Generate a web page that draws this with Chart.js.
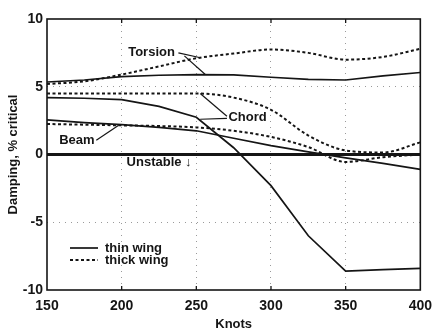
<!DOCTYPE html>
<html>
<head>
<meta charset="utf-8">
<script src="https://cdn.jsdelivr.net/npm/chart.js@4.4.1/dist/chart.umd.min.js"></script>
<style>
    html, body { margin: 0; padding: 0; background: #fff; }
    #wrap { width: 440px; height: 333px; }
</style>
</head>
<body>
<div id="wrap"><canvas id="myChartDamping"></canvas></div>
<script>
// valores (Knots x Damping % critical)
const knots = [150, 175, 200, 225, 250, 275, 300, 325, 350, 375, 400];

const torsionThin  = [5.35, 5.5, 5.75, 5.85, 5.9, 5.88, 5.7, 5.55, 5.5, 5.8, 6.05];
const torsionThick = [5.2, 5.4, 5.9, 6.5, 7.1, 7.45, 7.75, 7.5, 7.0, 7.2, 7.8];
const chordThin    = [4.2, 4.15, 4.05, 3.55, 2.75, 0.5, -2.3, -6.0, -8.6, -8.5, -8.4];
const chordThick   = [4.5, 4.5, 4.5, 4.5, 4.5, 4.2, 3.3, 1.4, 0.3, 0.15, 0.9];
const beamThin     = [2.55, 2.35, 2.2, 2.0, 1.75, 1.2, 0.65, 0.2, -0.25, -0.65, -1.1];
const beamThick    = [2.25, 2.2, 2.15, 2.1, 2.0, 1.75, 1.3, 0.55, -0.55, -0.2, 0.0];

const limiteKnots = [150, 400];
const limiteValores = [0, 0];

const xTicks = [150, 200, 250, 300, 350, 400];
const yTicks = [-10, -5, 0, 5, 10];

const fonte = 'Liberation Sans, Arial, sans-serif';
const cor = '#151515';

function pontos(xs, ys) {
    return xs.map((x, i) => ({ x: x, y: ys[i] }));
}

function linha(valores, tracejada) {
    return {
        data: pontos(knots, valores),
        borderColor: cor,
        borderWidth: tracejada ? 2 : 1.7,
        borderDash: tracejada ? [3, 2.5] : [],
        cubicInterpolationMode: tracejada ? 'monotone' : 'default',
        tension: 0,
        pointRadius: 0,
        fill: false
    };
}

// textos e setas, em coordenadas do grafico
const rotulos = [
    { text: 'Torsion', x: 220, y: 7.5, align: 'center' },
    { text: 'Chord', x: 271.5, y: 2.74, align: 'left' },
    { text: 'Beam', x: 170, y: 1.05, align: 'center' },
    { text: 'Unstable \u2193', x: 203.3, y: -0.62, align: 'left' }
];
const setas = [
    [[238, 7.5], [252, 7.16]],
    [[242, 7.28], [256, 5.9]],
    [[270.5, 2.82], [252.6, 4.5]],
    [[270.5, 2.66], [252.6, 2.6]],
    [[183, 1.05], [198, 2.15]]
];

const anotacoes = {
    id: 'anotacoes',
    afterDatasetsDraw(chart) {
        const ctx = chart.ctx;
        const area = chart.chartArea;
        const sx = chart.scales.x;
        const sy = chart.scales.y;
        ctx.save();

        // moldura
        ctx.strokeStyle = cor;
        ctx.lineWidth = 1.6;
        ctx.setLineDash([]);
        ctx.strokeRect(area.left, area.top, area.right - area.left, area.bottom - area.top);

        // tracinhos internos em cima e embaixo
        ctx.lineWidth = 1.3;
        xTicks.slice(1, -1).forEach(v => {
            const px = sx.getPixelForValue(v);
            ctx.beginPath();
            ctx.moveTo(px, area.top);
            ctx.lineTo(px, area.top + 4);
            ctx.moveTo(px, area.bottom);
            ctx.lineTo(px, area.bottom - 4);
            ctx.stroke();
        });

        // setas
        ctx.lineWidth = 1.2;
        setas.forEach(s => {
            ctx.beginPath();
            ctx.moveTo(sx.getPixelForValue(s[0][0]), sy.getPixelForValue(s[0][1]));
            ctx.lineTo(sx.getPixelForValue(s[1][0]), sy.getPixelForValue(s[1][1]));
            ctx.stroke();
        });

        ctx.fillStyle = cor;
        ctx.font = 'bold 13px ' + fonte;
        ctx.textBaseline = 'middle';
        rotulos.forEach(r => {
            ctx.textAlign = r.align;
            ctx.fillText(r.text, sx.getPixelForValue(r.x), sy.getPixelForValue(r.y));
        });

        // legenda
        const lx = area.left + 23;
        const ly = area.top + 229;
        ctx.lineWidth = 1.7;
        ctx.beginPath();
        ctx.moveTo(lx, ly);
        ctx.lineTo(lx + 28, ly);
        ctx.stroke();
        ctx.lineWidth = 2;
        ctx.setLineDash([3, 2.5]);
        ctx.beginPath();
        ctx.moveTo(lx, ly + 12);
        ctx.lineTo(lx + 28, ly + 12);
        ctx.stroke();
        ctx.setLineDash([]);
        ctx.textAlign = 'left';
        ctx.fillText('thin wing', lx + 35, ly);
        ctx.fillText('thick wing', lx + 35, ly + 12);

        ctx.restore();
    }
};

function corGrade(c) {
    const v = c.tick ? c.tick.value : null;
    if (v === 0 || v === 150 || v === 400 || v === 10 || v === -10) return 'rgba(0,0,0,0)';
    return '#9a9a9a';
}

const ctxDamping = document.getElementById('myChartDamping');
const dataDamping = {
    datasets: [
        linha(torsionThin, false),
        linha(torsionThick, true),
        linha(chordThin, false),
        linha(chordThick, true),
        linha(beamThin, false),
        linha(beamThick, true),
        {
            data: pontos(limiteKnots, limiteValores),
            borderColor: cor,
            borderWidth: 3,
            pointRadius: 0,
            fill: false
        }
    ]
};
const configDamping = {
    type: 'line',
    data: dataDamping,
    options: {
        responsive: true,
        maintainAspectRatio: false,
        animation: false,
        layout: { padding: { top: 19, right: 13, left: 0, bottom: 0 } },
        plugins: {
            legend: { display: false },
            tooltip: { enabled: false }
        },
        scales: {
            x: {
                type: 'linear',
                min: 150,
                max: 400,
                afterBuildTicks: s => { s.ticks = xTicks.map(v => ({ value: v })); },
                afterFit: s => { s.height = 43; },
                grid: { color: corGrade, lineWidth: 1, drawTicks: false },
                border: { display: false, dash: [1, 5] },
                ticks: { color: cor, padding: 8, maxRotation: 0, font: { family: fonte, size: 14, weight: 'bold' } },
                title: {
                    display: true,
                    text: 'Knots',
                    color: cor,
                    padding: { top: 0, bottom: 1 },
                    font: { family: fonte, size: 13, weight: 'bold' }
                }
            },
            y: {
                min: -10,
                max: 10,
                afterBuildTicks: s => { s.ticks = yTicks.map(v => ({ value: v })); },
                afterFit: s => { s.width = 47; },
                grid: { color: corGrade, lineWidth: 1, drawTicks: false },
                border: { display: false, dash: [1, 5] },
                ticks: { color: cor, padding: 4, font: { family: fonte, size: 14, weight: 'bold' } },
                title: {
                    display: true,
                    text: 'Damping, % critical',
                    color: cor,
                    padding: { top: 6, bottom: 0 },
                    font: { family: fonte, size: 13, weight: 'bold' }
                }
            }
        }
    },
    plugins: [anotacoes]
};

new Chart(ctxDamping, configDamping);
</script>
</body>
</html>
